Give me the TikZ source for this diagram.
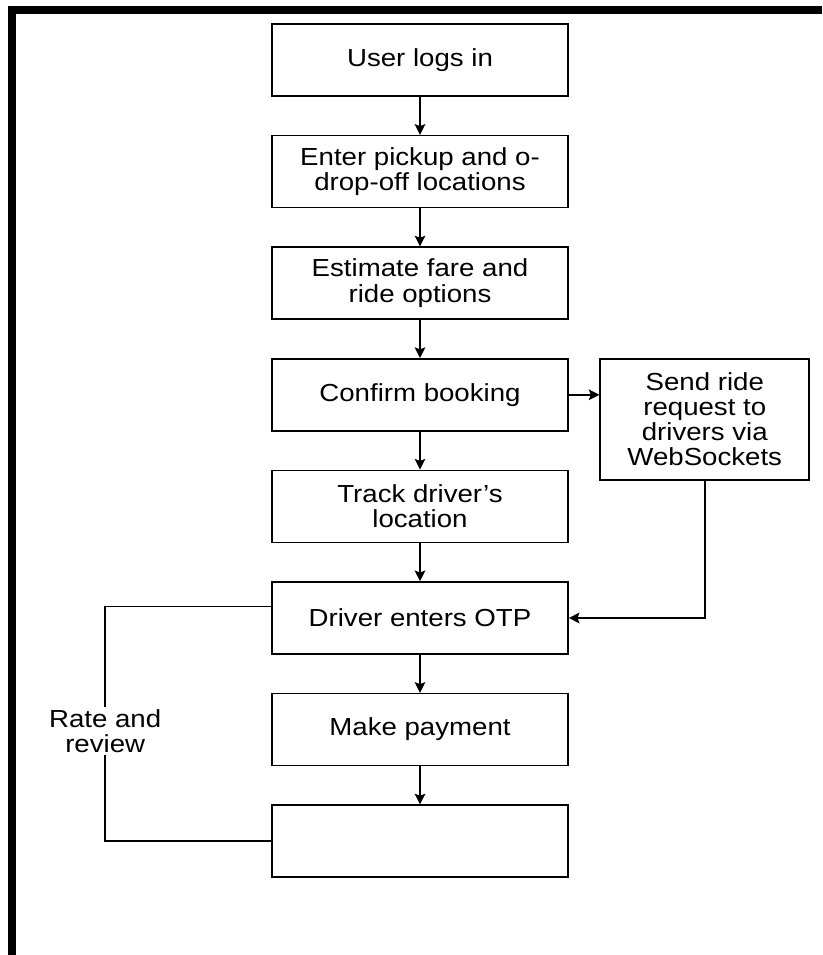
\documentclass[tikz,border=0pt]{standalone}
\usepackage{fontspec}
\setmainfont{Liberation Sans}[FakeStretch=1.12]
\usetikzlibrary{arrows.meta,positioning}

\begin{document}
\begin{tikzpicture}[x=0.75pt, y=-0.75pt, node distance=28.5pt,
    font=\fontsize{18.5}{18.9}\selectfont,
    arr/.style={-{Stealth[length=8pt,width=8pt,inset=1.5pt]}, line width=1.1pt}]
      \useasboundingbox (0,0) rectangle (822,955);
      % frame (top and left only)
      \fill (8,6) rectangle (822,14);
      \fill (8,6) rectangle (16,955);
      \begin{scope}[every node/.style={draw, line width=1.2pt, align=center,
          minimum width=222pt, minimum height=54pt}]
        \node (login) at (420,60) {User logs in};
        \node (pickup) [below= of login] {Enter pickup and o-\\drop-off locations};
        \node (fare) [below= of pickup] {Estimate fare and\\ride options};
        \node (confirm) [below= of fare] {Confirm booking};
        \node (track) [below= of confirm] {Track driver’s\\location};
        \node (otp) [below= of track] {Driver enters OTP};
        \node (pay) [below= of otp] {Make payment};
        \node (blank) [below= of pay] {};
        \node (websock) [right= 23pt of confirm.north east, anchor=north west,
          minimum width=156.75pt, minimum height=90.75pt]
          {Send ride\\request to\\drivers via\\WebSockets};
      \end{scope}
      \begin{scope}[every edge/.style={draw, arr}]
        \foreach \a/\b in {login/pickup, pickup/fare, fare/confirm, confirm/track,
            track/otp, otp/pay, pay/blank}
          \path (\a) edge (\b);
      \end{scope}
      \draw[arr] (confirm.east) -- (confirm.east -| websock.west);
      \draw[arr] (websock.south) |- (otp.east);
      % rate and review loop
      \coordinate (rtop) at ([xshift=-124.5pt, yshift=8.6pt]otp.west);
      \draw[line width=1.1pt] ([yshift=8.6pt]otp.west) -- (rtop) |- (blank.west)
        node[pos=0.265, fill=white, inner sep=2pt, align=center] {Rate and\\review};
\end{tikzpicture}
\end{document}
